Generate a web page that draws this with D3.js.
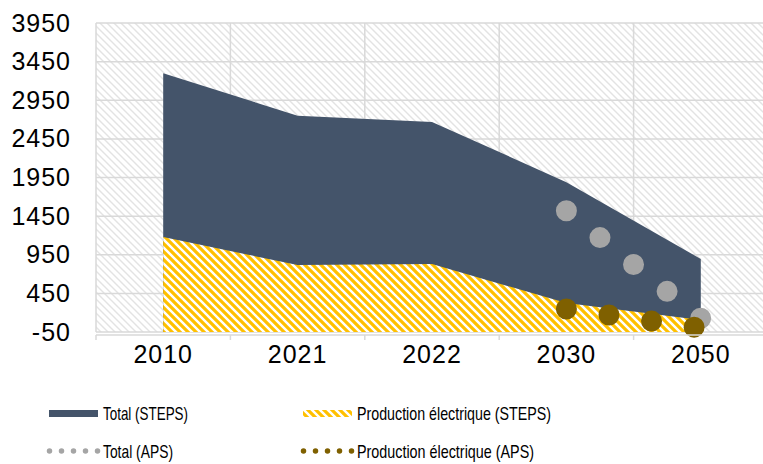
<!DOCTYPE html>
<html>
<head>
<meta charset="utf-8">
<script src="https://cdn.jsdelivr.net/npm/d3@7"></script>
<style>
body { margin: 0; background: #fff; }
.axis text { font-family: "Liberation Sans", Arial, sans-serif; font-size: 25px; fill: #000; letter-spacing: 1px; }
.axis .domain { display: none; }
.legend text { font-family: "Liberation Sans", Arial, sans-serif; font-size: 19px; fill: #000; }
</style>
</head>
<body>
<div class="chart"></div>
<script>
// Data ---------------------------------------------------------------------
const years = ["2010", "2021", "2022", "2030", "2050"];
const totalSteps = [3300, 2750, 2670, 1890, 895];
const prodSteps = [1180, 817, 830, 325, 105];
const totalAps = [null, null, null, 1520, 127];
const prodAps = [null, null, null, 248, 0];
const yTicks = [-50, 450, 950, 1450, 1950, 2450, 2950, 3450, 3950];

// SVG Dimensions ---------------------------------------------------------------------
const width = 763;
const height = 464;
const plot = { left: 96, right: 768, top: 23, bottom: 332 };

const colors = {
  total: "#44546A",
  prod: "#FFC000",
  totalAps: "#A5A5A5",
  prodAps: "#7F6000",
  grid: "#D9D9D9"
};

const svg = d3.select(".chart")
  .append("svg")
  .attr("width", width)
  .attr("height", height);

// Patterns ---------------------------------------------------------------------
const defs = svg.append("defs");

const bgPat = defs.append("pattern")
  .attr("id", "bg-hatch")
  .attr("patternUnits", "userSpaceOnUse")
  .attr("width", 7).attr("height", 7);
bgPat.append("rect").attr("width", 7).attr("height", 7).attr("fill", "#fff");
bgPat.append("path")
  .attr("d", "M0,0 L7,7 M-2,5 L2,9 M5,-2 L9,2")
  .attr("stroke", "#E3E3E3")
  .attr("stroke-width", 1.4);

const yPat = defs.append("pattern")
  .attr("id", "yellow-hatch")
  .attr("patternUnits", "userSpaceOnUse")
  .attr("width", 8).attr("height", 8);
yPat.append("rect").attr("width", 8).attr("height", 8).attr("fill", "#fff");
yPat.append("path")
  .attr("d", "M0,0 L8,8 M-4,4 L4,12 M4,-4 L12,4")
  .attr("stroke", colors.prod)
  .attr("stroke-width", 3.2);

// Scales ---------------------------------------------------------------------
const xScale = d3.scaleBand()
  .domain(years)
  .range([plot.left, plot.right])
  .padding(0);

const xMid = d => xScale(d) + xScale.bandwidth() / 2;

const yScale = d3.scaleLinear()
  .domain([-50, 3950])
  .range([plot.bottom, plot.top]);

// Plot background and grid ---------------------------------------------------------------------
svg.append("rect")
  .attr("x", plot.left)
  .attr("y", plot.top)
  .attr("width", plot.right - plot.left)
  .attr("height", plot.bottom - plot.top)
  .attr("fill", "url(#bg-hatch)");

svg.append("g")
  .selectAll("line")
  .data(yTicks)
  .join("line")
  .attr("x1", plot.left)
  .attr("x2", plot.right)
  .attr("y1", d => yScale(d))
  .attr("y2", d => yScale(d))
  .attr("stroke", colors.grid)
  .attr("stroke-width", 1.5);

const bounds = years.map(d => xScale(d)).concat([plot.right]);
svg.append("g")
  .selectAll("line")
  .data(bounds)
  .join("line")
  .attr("x1", d => d)
  .attr("x2", d => d)
  .attr("y1", plot.top)
  .attr("y2", plot.bottom)
  .attr("stroke", colors.grid)
  .attr("stroke-width", 1.5);

// Areas ---------------------------------------------------------------------
const area = d3.area()
  .x((d, i) => xMid(years[i]))
  .y0(yScale(-50))
  .y1(d => yScale(d));

svg.append("path")
  .datum(totalSteps)
  .attr("fill", colors.total)
  .attr("d", area);

svg.append("path")
  .datum(prodSteps)
  .attr("fill", "url(#yellow-hatch)")
  .attr("d", area);

// APS dotted lines ---------------------------------------------------------------------
const line = d3.line()
  .defined(d => d != null)
  .x((d, i) => xMid(years[i]))
  .y(d => yScale(d));

[[totalAps, colors.totalAps], [prodAps, colors.prodAps]].forEach(([vals, c]) => {
  svg.append("path")
    .datum(vals)
    .attr("fill", "none")
    .attr("stroke", c)
    .attr("stroke-width", 21)
    .attr("stroke-linecap", "round")
    .attr("stroke-dasharray", "0 43")
    .attr("d", line);
});

// Axes ---------------------------------------------------------------------
const axisY = 335;
svg.append("line")
  .attr("x1", plot.left).attr("x2", plot.right)
  .attr("y1", axisY).attr("y2", axisY)
  .attr("stroke", colors.grid)
  .attr("stroke-width", 1.5);

svg.append("g")
  .selectAll("line")
  .data(bounds)
  .join("line")
  .attr("x1", d => d).attr("x2", d => d)
  .attr("y1", axisY).attr("y2", axisY + 5)
  .attr("stroke", colors.grid)
  .attr("stroke-width", 1.5);

const xAxis = d3.axisBottom(xScale).tickSize(0).tickPadding(10);
svg.append("g")
  .attr("class", "axis")
  .attr("transform", `translate(0,${axisY})`)
  .call(xAxis);

const yAxis = d3.axisLeft(yScale)
  .tickValues(yTicks)
  .tickFormat(d => String(d))
  .tickSize(0)
  .tickPadding(25);
svg.append("g")
  .attr("class", "axis")
  .attr("transform", `translate(${plot.left},0)`)
  .call(yAxis);

// Legend ---------------------------------------------------------------------
const legend = svg.append("g").attr("class", "legend");
const legendItems = [
  { label: "Total (STEPS)", type: "rect", fill: colors.total, x: 49, y: 413, w: 85 },
  { label: "Production électrique (STEPS)", type: "rect", fill: "url(#yellow-hatch)", x: 303, y: 413, w: 194 },
  { label: "Total (APS)", type: "dots", fill: colors.totalAps, x: 49, y: 451, w: 70 },
  { label: "Production électrique (APS)", type: "dots", fill: colors.prodAps, x: 303, y: 451, w: 177 }
];

legendItems.forEach(it => {
  const g = legend.append("g").attr("transform", `translate(${it.x},${it.y})`);
  if (it.type === "rect") {
    g.append("rect").attr("x", 0).attr("y", -3).attr("width", 49).attr("height", 7).attr("fill", it.fill);
  } else {
    g.append("line")
      .attr("x1", 0.5).attr("x2", 48.6)
      .attr("stroke", it.fill)
      .attr("stroke-width", 5.5)
      .attr("stroke-linecap", "round")
      .attr("stroke-dasharray", "0 12");
  }
  g.append("text")
    .attr("x", 54)
    .attr("dy", "0.35em")
    .attr("textLength", it.w)
    .attr("lengthAdjust", "spacingAndGlyphs")
    .text(it.label);
});
</script>
</body>
</html>
